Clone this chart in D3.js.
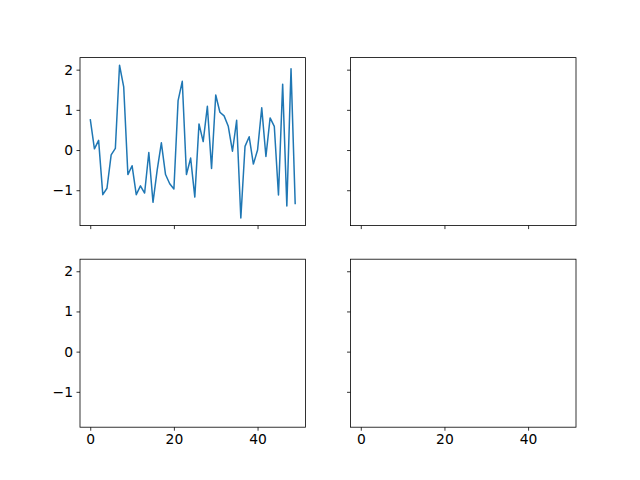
<!DOCTYPE html>
<html>
<head>
<meta charset="utf-8">
<script src="https://cdn.jsdelivr.net/npm/d3@7"></script>
<style>
  html, body { margin: 0; padding: 0; background: #fff; }
  svg { display: block; }
</style>
</head>
<body>
<svg id="chart" width="640" height="480"></svg>
<script>
// ---- data ----
const seriesValues = [
  0.77, 0.03, 0.24, -1.11, -0.95, -0.12, 0.04, 2.11, 1.57, -0.61,
  -0.39, -1.11, -0.89, -1.07, -0.06, -1.30, -0.50, 0.18, -0.61, -0.84,
  -0.97, 1.23, 1.71, -0.61, -0.20, -1.17, 0.65, 0.21, 1.09, -0.46,
  1.37, 0.94, 0.85, 0.59, -0.03, 0.74, -1.69, 0.09, 0.33, -0.35,
  0.00, 1.05, -0.16, 0.80, 0.59, -1.12, 1.64, -1.39, 2.02, -1.35
];
const xTickValues = [0, 20, 40];
const yTickValues = [-1, 0, 1, 2];
const panels = [
  { row: 0, col: 0, hasLine: true },
  { row: 0, col: 1, hasLine: false },
  { row: 1, col: 0, hasLine: false },
  { row: 1, col: 1, hasLine: false }
];

(function () {
  // ---- layout (matplotlib defaults) ----
  const W = 640, H = 480;
  const padL = 0.125 * W, padR = 0.9 * W, padT = (1 - 0.88) * H, padB = (1 - 0.11) * H;
  const wspace = 0.2, hspace = 0.2;
  const axW = (padR - padL) / (2 + wspace);
  const axH = (padB - padT) / (2 + hspace);
  const gapW = axW * wspace, gapH = axH * hspace;

  const xs = seriesValues.map((d, i) => i);
  const xExt = d3.extent(xs);
  const yExt = d3.extent(seriesValues);
  const xPad = (xExt[1] - xExt[0]) * 0.05;
  const yPad = (yExt[1] - yExt[0]) * 0.05;

  const svg = d3.select("#chart");
  const fontFamily = "DejaVu Sans, sans-serif";
  const fontSize = 13.89;
  const fmt = v => (v < 0 ? "\u2212" + Math.abs(v) : String(v));

  panels.forEach(p => {
    const x0 = padL + p.col * (axW + gapW);
    const y0 = padT + p.row * (axH + gapH);
    const x = d3.scaleLinear().domain([xExt[0] - xPad, xExt[1] + xPad]).range([0, axW]);
    const y = d3.scaleLinear().domain([yExt[0] - yPad, yExt[1] + yPad]).range([axH, 0]);

    const g = svg.append("g").attr("transform", `translate(${x0},${y0})`);

    if (p.hasLine) {
      const line = d3.line().x((d, i) => x(i)).y(d => y(d));
      g.append("path")
        .datum(seriesValues)
        .attr("fill", "none")
        .attr("stroke", "#1f77b4")
        .attr("stroke-width", 1.5)
        .attr("stroke-linejoin", "round")
        .attr("stroke-linecap", "butt")
        .attr("d", line);
    }

    const showXLabels = p.row === 1;
    const showYLabels = p.col === 0;

    const xAxis = d3.axisBottom(x).tickValues(xTickValues).tickSize(3.5).tickPadding(3.5)
      .tickFormat(showXLabels ? fmt : () => "");
    const yAxis = d3.axisLeft(y).tickValues(yTickValues).tickSize(3.5).tickPadding(3.5)
      .tickFormat(showYLabels ? fmt : () => "");

    const gx = g.append("g").attr("transform", `translate(0,${axH})`).call(xAxis);
    const gy = g.append("g").call(yAxis);
    [gx, gy].forEach(a => {
      a.select(".domain").remove();
      a.selectAll(".tick line").attr("stroke", "#000").attr("stroke-width", 0.8);
      a.selectAll(".tick text").attr("fill", "#000")
        .style("font-family", fontFamily).style("font-size", fontSize + "px");
    });

    g.append("rect")
      .attr("x", 0).attr("y", 0).attr("width", axW).attr("height", axH)
      .attr("fill", "none").attr("stroke", "#000").attr("stroke-width", 0.8);
  });
})();
</script>
</body>
</html>
